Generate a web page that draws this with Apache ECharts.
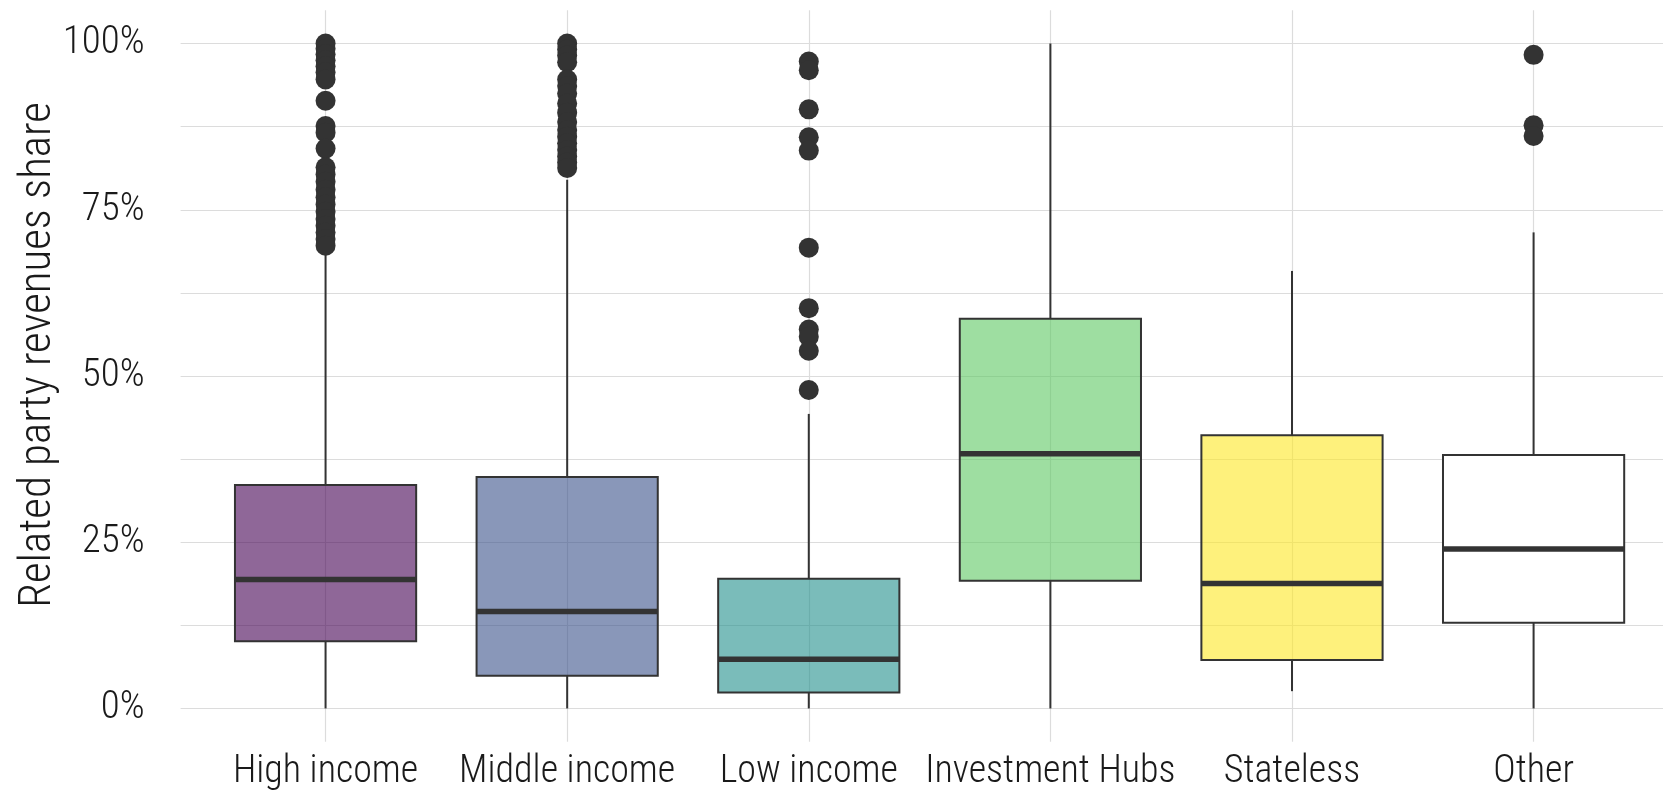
<!DOCTYPE html>
<html>
<head>
<meta charset="utf-8">
<title>Related party revenues share</title>
<script src="https://cdn.jsdelivr.net/npm/echarts@6/dist/echarts.min.js"></script>
<style>
  html, body { margin: 0; padding: 0; background: #ffffff; }
  #chart { width: 1663px; height: 796px; }
</style>
</head>
<body>
<div id="chart"></div>
<script>
// Country groups shown along the x axis
const categories = ['High income', 'Middle income', 'Low income', 'Investment Hubs', 'Stateless', 'Other'];

// Five-number summaries (share, 0..1) for each group
const whiskerLow  = [0.000, 0.000, 0.000, 0.000, 0.026, 0.000];
const quartile1   = [0.101, 0.049, 0.024, 0.192, 0.073, 0.129];
const medians     = [0.194, 0.146, 0.074, 0.383, 0.188, 0.240];
const quartile3   = [0.336, 0.348, 0.195, 0.586, 0.411, 0.381];
const whiskerHigh = [0.686, 0.795, 0.443, 1.000, 0.658, 0.716];

// Outlying observations per group
const highIncomeOutliers = [1.000, 0.992, 0.984, 0.975, 0.966, 0.957, 0.946, 0.914, 0.876, 0.866, 0.842,
  0.814, 0.803, 0.792, 0.780, 0.769, 0.758, 0.747, 0.736, 0.726, 0.716, 0.706, 0.696];
const middleIncomeOutliers = [1.000, 0.991, 0.982, 0.972, 0.946, 0.936, 0.925, 0.910, 0.896, 0.882,
  0.870, 0.860, 0.850, 0.840, 0.830, 0.821, 0.813];
const lowIncomeOutliers = [0.973, 0.960, 0.901, 0.859, 0.839, 0.693, 0.602, 0.570, 0.559, 0.538, 0.479];
const investmentHubsOutliers = [];
const statelessOutliers = [];
const otherOutliers = [0.983, 0.877, 0.861];

// Tick positions on the share axis
const gridValues = [0, 0.125, 0.25, 0.375, 0.5, 0.625, 0.75, 0.875, 1];
const labelValues = [0, 0.25, 0.5, 0.75, 1];

const outlierGroups = [highIncomeOutliers, middleIncomeOutliers, lowIncomeOutliers,
  investmentHubsOutliers, statelessOutliers, otherOutliers];

// viridis palette with 0.6 alpha; the last group is left unfilled
const fills = ['rgba(68,1,84,0.6)', 'rgba(59,82,139,0.6)', 'rgba(33,144,140,0.6)',
  'rgba(93,200,99,0.6)', 'rgba(253,231,37,0.6)', '#ffffff'];
const INK = '#333333';
const BOX_WIDTH = 0.75;
// condensed light face of Roboto
const FONT = 'Roboto, sans-serif';
const textBase = { fontFamily: FONT, fontStyle: 'condensed', fontWeight: 300, color: '#1a1a1a' };

const boxData = categories.map((c, i) =>
  [i + 1, whiskerLow[i], quartile1[i], medians[i], quartile3[i], whiskerHigh[i]]);

const outlierData = [];
outlierGroups.forEach((group, i) => group.forEach(v => outlierData.push([i + 1, v])));

function renderBox(params, api) {
  const x = api.value(0);
  const lo = api.coord([x, api.value(1)]);
  const q1 = api.coord([x, api.value(2)]);
  const med = api.coord([x, api.value(3)]);
  const q3 = api.coord([x, api.value(4)]);
  const hi = api.coord([x, api.value(5)]);
  const half = api.size([BOX_WIDTH, 0])[0] / 2;
  const cx = q1[0];
  const fill = fills[params.dataIndex];
  return {
    type: 'group',
    children: [
      { type: 'line', shape: { x1: cx, y1: lo[1], x2: cx, y2: q1[1] },
        style: { stroke: INK, lineWidth: 2 } },
      { type: 'line', shape: { x1: cx, y1: q3[1], x2: cx, y2: hi[1] },
        style: { stroke: INK, lineWidth: 2 } },
      { type: 'rect', shape: { x: cx - half, y: q3[1], width: half * 2, height: q1[1] - q3[1] },
        style: { fill: fill, stroke: INK, lineWidth: 2 } },
      { type: 'line', shape: { x1: cx - half, y1: med[1], x2: cx + half, y2: med[1] },
        style: { stroke: INK, lineWidth: 5.5 } }
    ]
  };
}

const chart = echarts.init(document.getElementById('chart'), null, { renderer: 'canvas' });

chart.setOption({
  backgroundColor: '#ffffff',
  animation: false,
  grid: { left: 180.6, right: 0, top: 10.3, bottom: 54.3, containLabel: false },
  xAxis: {
    type: 'value',
    // the panel is cut off at the right edge, so the range stops short of 6.6
    min: 0.4,
    max: 6.5356,
    axisLine: { show: false, onZero: false },
    axisTick: { show: false, customValues: categories.map((c, i) => i + 1) },
    axisLabel: Object.assign({
      customValues: categories.map((c, i) => i + 1),
      formatter: v => categories[Math.round(v) - 1] || '',
      showMinLabel: true,
      showMaxLabel: true,
      hideOverlap: false,
      fontSize: 38,
      margin: 12
    }, textBase),
    splitLine: { show: true, lineStyle: { color: '#dcdcdc', width: 1.2 } }
  },
  yAxis: {
    type: 'value',
    min: -0.05,
    max: 1.05,
    name: 'Related party revenues share',
    nameLocation: 'middle',
    nameRotate: 90,
    nameGap: 119,
    nameMoveOverlap: false,
    nameTextStyle: Object.assign({ fontSize: 45, padding: [0, 0, 0, 42] }, textBase),
    axisLine: { show: false },
    axisTick: { show: false, customValues: gridValues },
    axisLabel: Object.assign({
      customValues: labelValues,
      formatter: v => Math.round(v * 100) + '%',
      fontSize: 39,
      margin: 36,
      padding: [0, 0, 8, 0]
    }, textBase),
    splitLine: { show: true, lineStyle: { color: '#dcdcdc', width: 1.2 } }
  },
  series: [
    {
      name: 'box',
      type: 'custom',
      renderItem: renderBox,
      encode: { x: 0, y: [1, 2, 3, 4, 5] },
      data: boxData,
      z: 2
    },
    {
      name: 'outliers',
      type: 'scatter',
      symbol: 'circle',
      symbolSize: 20,
      itemStyle: { color: INK, opacity: 1 },
      data: outlierData,
      z: 3
    }
  ]
});
</script>
</body>
</html>
